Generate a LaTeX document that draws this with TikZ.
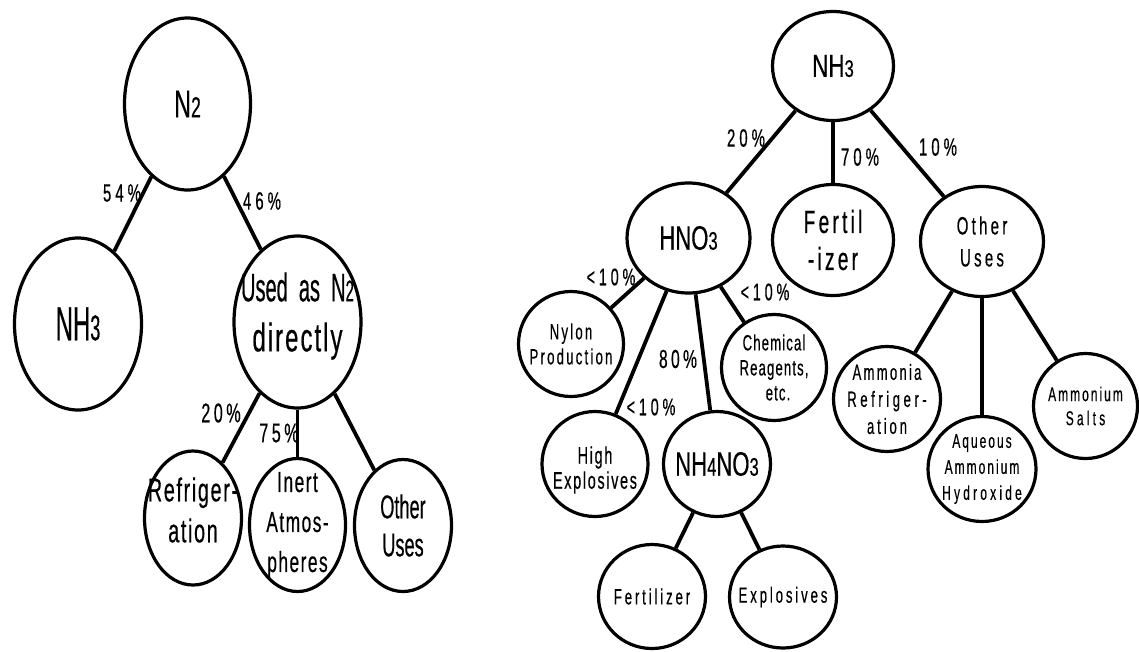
\documentclass[tikz,border=0pt]{standalone}
\usepackage{fontspec}
\setmainfont{Liberation Sans}
\newfontfamily\fwA[FakeStretch=0.50,FakeBold=0.4]{Liberation Sans}
\newfontfamily\fwAA[FakeStretch=0.55,FakeBold=0.4]{Liberation Sans}
\newfontfamily\fwB[FakeStretch=0.60,FakeBold=0.4]{Liberation Sans}
\newfontfamily\fwC[FakeStretch=0.65,FakeBold=0.4]{Liberation Sans}
\newfontfamily\fwD[FakeStretch=0.70,FakeBold=0.4]{Liberation Sans}
\newfontfamily\lsA[FakeStretch=0.60,LetterSpace=5,FakeBold=0.4]{Liberation Sans}
\newfontfamily\lsB[FakeStretch=0.60,LetterSpace=7,FakeBold=0.4]{Liberation Sans}
\newfontfamily\lsC[FakeStretch=0.60,LetterSpace=10,FakeBold=0.4]{Liberation Sans}
\newfontfamily\lsD[FakeStretch=0.60,LetterSpace=13,FakeBold=0.4]{Liberation Sans}
\newfontfamily\lsE[FakeStretch=0.60,LetterSpace=16,FakeBold=0.4]{Liberation Sans}
\usetikzlibrary{shapes.geometric}
\newcommand\smd[1]{\scalebox{0.75}{#1}}
\newcommand\fsz[2]{\fontsize{#1}{#2}\selectfont}
\begin{document}
\begin{tikzpicture}[x=1pt,y=-1pt,
  el/.style 2 args={ellipse,draw=black,line width=3.2pt,minimum width=#1pt,minimum height=#2pt,inner sep=0pt},
  txt/.style={align=center,inner sep=0pt,text=black},
  edge/.style={line width=3.8pt,black},
  pct/.style={inner sep=0pt,text=black}]
\useasboundingbox[fill=white] (0,0) rectangle (1139,651);

% ---------- left tree ----------
\node[el={126}{172}] (n2)    at (187.5,104) {};
\node[el={127}{172}] (nh3l)  at (78,324) {};
\node[el={127}{172}] (used)  at (297.5,322) {};
\node[el={97}{134}]  (refr)  at (193,518) {};
\node[el={96}{133}]  (inert) at (297.5,525) {};
\node[el={97}{132}]  (othl)  at (403,525.5) {};

\node[txt,font=\fsz{39}{44}\fwB] (n2t) at (n2) {N\smd{2}};
\node[txt,font=\fsz{48}{54}\fwA] (nh3lt) at (nh3l) {NH\smd{3}};
\node[txt,font=\fsz{40}{50}\fwA] (usedt) at ([yshift=6pt]used.center) {Used\ \ as\ \ N\smd{2}\\{\lsA directly}};
\node[txt,font=\fsz{33}{41}\lsA] (refrt) at ([yshift=8pt]refr.center) {Refriger-\\ation};
\node[txt,font=\fsz{29}{40}\lsA] (inertt) at (inert) {Inert\\Atmos-\\pheres};
\node[txt,font=\fsz{33}{38}\fwAA] (othlt) at (othl) {Other\\Uses};

\draw[edge] (n2) -- (nh3l);
\draw[edge] (n2) -- (used);
\draw[edge] (used) -- (refr);
\draw[edge] (used) -- (inert);
\draw[edge] (used) -- (othl);

\node[pct,font=\fsz{25}{30}\lsE] (p54) at (122,193) {54\%};
\node[pct,font=\fsz{25}{30}\lsE] (p46) at (262,201) {46\%};
\node[pct,font=\fsz{27}{30}\lsD] (p20l) at (221,413) {20\%};
\node[pct,font=\fsz{27}{30}\lsD] (p75) at (279,433) {75\%};

% ---------- right tree ----------
\node[el={121}{109}] (nh3r)  at (833,66) {};
\node[el={123}{110}] (hno3)  at (688.5,238) {};
\node[el={121}{111}] (fert)  at (833,240) {};
\node[el={123}{110}] (othr)  at (982,241.5) {};
\node[el={105}{105}] (nylon) at (571,344) {};
\node[el={105}{106}] (chem)  at (774,367.5) {};
\node[el={106}{105}] (hexp)  at (595,464) {};
\node[el={107}{105}] (nh4)   at (717,464) {};
\node[el={107}{104}] (fert2) at (652,596.5) {};
\node[el={107}{102}] (expl)  at (783,597) {};
\node[el={107}{105}] (ammr)  at (887,399) {};
\node[el={108}{105}] (aq)    at (982,469) {};
\node[el={104}{105}] (salts) at (1085.5,406) {};

\node[txt,font=\fsz{32}{36}\fwD] (nh3rt) at (nh3r) {NH\smd{3}};
\node[txt,font=\fsz{34}{38}\fwC] (hno3t) at (hno3) {HNO\smd{3}};
\node[txt,font=\fsz{32}{37}\lsC] (fertt) at (fert) {Fertil\\-izer};
\node[txt,font=\fsz{25}{32}\lsD] (othrt) at (othr) {Other\\Uses};
\node[txt,font=\fsz{22}{25}\lsC] (nylont) at (nylon) {Nylon\\Production};
\node[txt,font=\fsz{22}{25}\lsA] (chemt) at (chem) {Chemical\\Reagents,\\\hspace*{8pt}etc.};
\node[txt,font=\fsz{24}{25}\lsB] (hexpt) at ([yshift=-6pt]hexp.center) {High\\Explosives};
\node[txt,font=\fsz{34}{38}\fwC] (nh4t) at (nh4) {NH\smd{4}NO\smd{3}};
\node[txt,font=\fsz{22}{25}\lsD] (fert2t) at (fert2) {Fertilizer};
\node[txt,font=\fsz{22}{25}\lsD] (explt) at (expl) {Explosives};
\node[txt,font=\fsz{22}{27}\lsC] (ammrt) at (ammr) {Ammonia\\{\lsE Refriger-}\\{\lsD ation}};
\node[txt,font=\fsz{20}{26}\lsC] (aqt) at (aq) {Aqueous\\Ammonium\\{\lsE Hydroxide}};
\node[txt,font=\fsz{20}{24}\lsC] (saltst) at (salts) {Ammonium\\{\lsE Salts}};

\draw[edge] (nh3r) -- (hno3);
\draw[edge] (nh3r) -- (fert);
\draw[edge] (nh3r) -- (othr);
\draw[edge] (hno3) -- (nylon);
\draw[edge] (hno3) -- (hexp);
\draw[edge] (hno3) -- (nh4);
\draw[edge] (hno3) -- (chem);
\draw[edge] (nh4) -- (fert2);
\draw[edge] (nh4) -- (expl);
\draw[edge] (othr) -- (ammr);
\draw[edge] (othr) -- (aq);
\draw[edge] (othr) -- (salts);

\node[pct,font=\fsz{25}{30}\lsE] (p20r) at (746,138) {20\%};
\node[pct,font=\fsz{25}{30}\lsE] (p70) at (860,157) {70\%};
\node[pct,font=\fsz{25}{30}\lsE] (p10) at (938,147) {10\%};
\node[pct,font=\fsz{24}{30}\lsE] (plt1) at (611,277) {<10\%};
\node[pct,font=\fsz{24}{30}\lsE] (plt2) at (765,292) {<10\%};
\node[pct,font=\fsz{26}{30}\lsD] (p80) at (678,359) {80\%};
\node[pct,font=\fsz{24}{30}\lsE] (plt3) at (651,407) {<10\%};
\end{tikzpicture}
\end{document}
